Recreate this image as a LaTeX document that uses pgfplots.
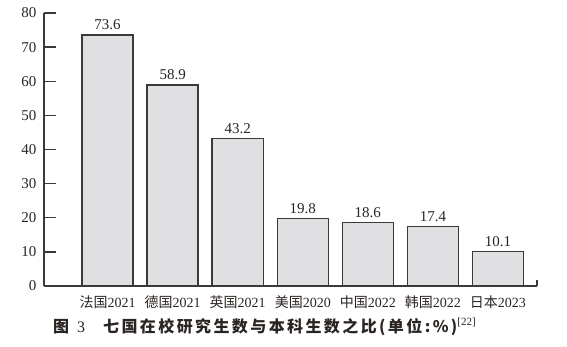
\documentclass[border=0pt]{standalone}
\usepackage{pgfplots}
\pgfplotsset{compat=1.18}
\usepackage{fontspec}
\setmainfont{Liberation Serif}
\newfontfamily\cjk{Noto Sans CJK SC}
\newfontfamily\cjkb[LetterSpace=15]{Noto Sans CJK SC}
\definecolor{barfill}{HTML}{E0E0E2}
\definecolor{baredge}{HTML}{3A3A3A}
\definecolor{txt}{HTML}{2A2522}
\begin{document}
\begin{tikzpicture}
\path[use as bounding box] (-44pt,-61pt) rectangle (523pt,286pt);
\begin{axis}[
  at={(0,0)}, anchor=south west,
  width=493pt, height=273pt, scale only axis,
  xmin=-0.977, xmax=6.6,
  ymin=0, ymax=80,
  axis x line=bottom, axis y line=left,
  axis line style={draw=baredge, line width=1.4pt, -},
  ytick={0,10,...,80},
  tick align=inside,
  major tick length=12pt,
  ytick style={draw=baredge, line width=1.4pt},
  xtick={0,...,6},
  xtick style={draw=none},
  xticklabels={{\cjk 法国}2021,{\cjk 德国}2021,{\cjk 英国}2021,{\cjk 美国}2020,{\cjk 中国}2022,{\cjk 韩国}2022,{\cjk 日本}2023},
  x tick label style={font=\fontsize{14}{14}\selectfont, text=txt, yshift=6pt},
  y tick label style={font=\fontsize{15}{15}\selectfont, text=txt, xshift=-4pt},
  /pgf/number format/assume math mode=true,
  ybar, bar width=0.785,
  nodes near coords,
  nodes near coords style={font=\fontsize{15}{15}\selectfont, text=txt, yshift=1pt,
    /pgf/number format/.cd, fixed, fixed zerofill, precision=1},
  clip=false,
]
\addplot[fill=barfill, draw=baredge, line width=1.4pt] coordinates {
  (0,73.6) (1,58.9) (2,43.2) (3,19.8) (4,18.6) (5,17.4) (6,10.1)};
\end{axis}
\draw[baredge, line width=1.4pt] (493pt,0pt) -- (493pt,6pt);
\node[anchor=west, inner sep=0pt, text=txt] at (9pt,-41pt)
  {{\cjkb\bfseries\fontsize{16}{16}\selectfont 图}\hspace{8pt}{\fontsize{16}{16}\selectfont 3}\hspace{18pt}{\cjkb\bfseries\fontsize{16}{16}\selectfont 七国在校研究生数与本科生数之比(单位:\%)}\raisebox{7pt}{\fontsize{11}{11}\selectfont[22]}};
\end{tikzpicture}
\end{document}
